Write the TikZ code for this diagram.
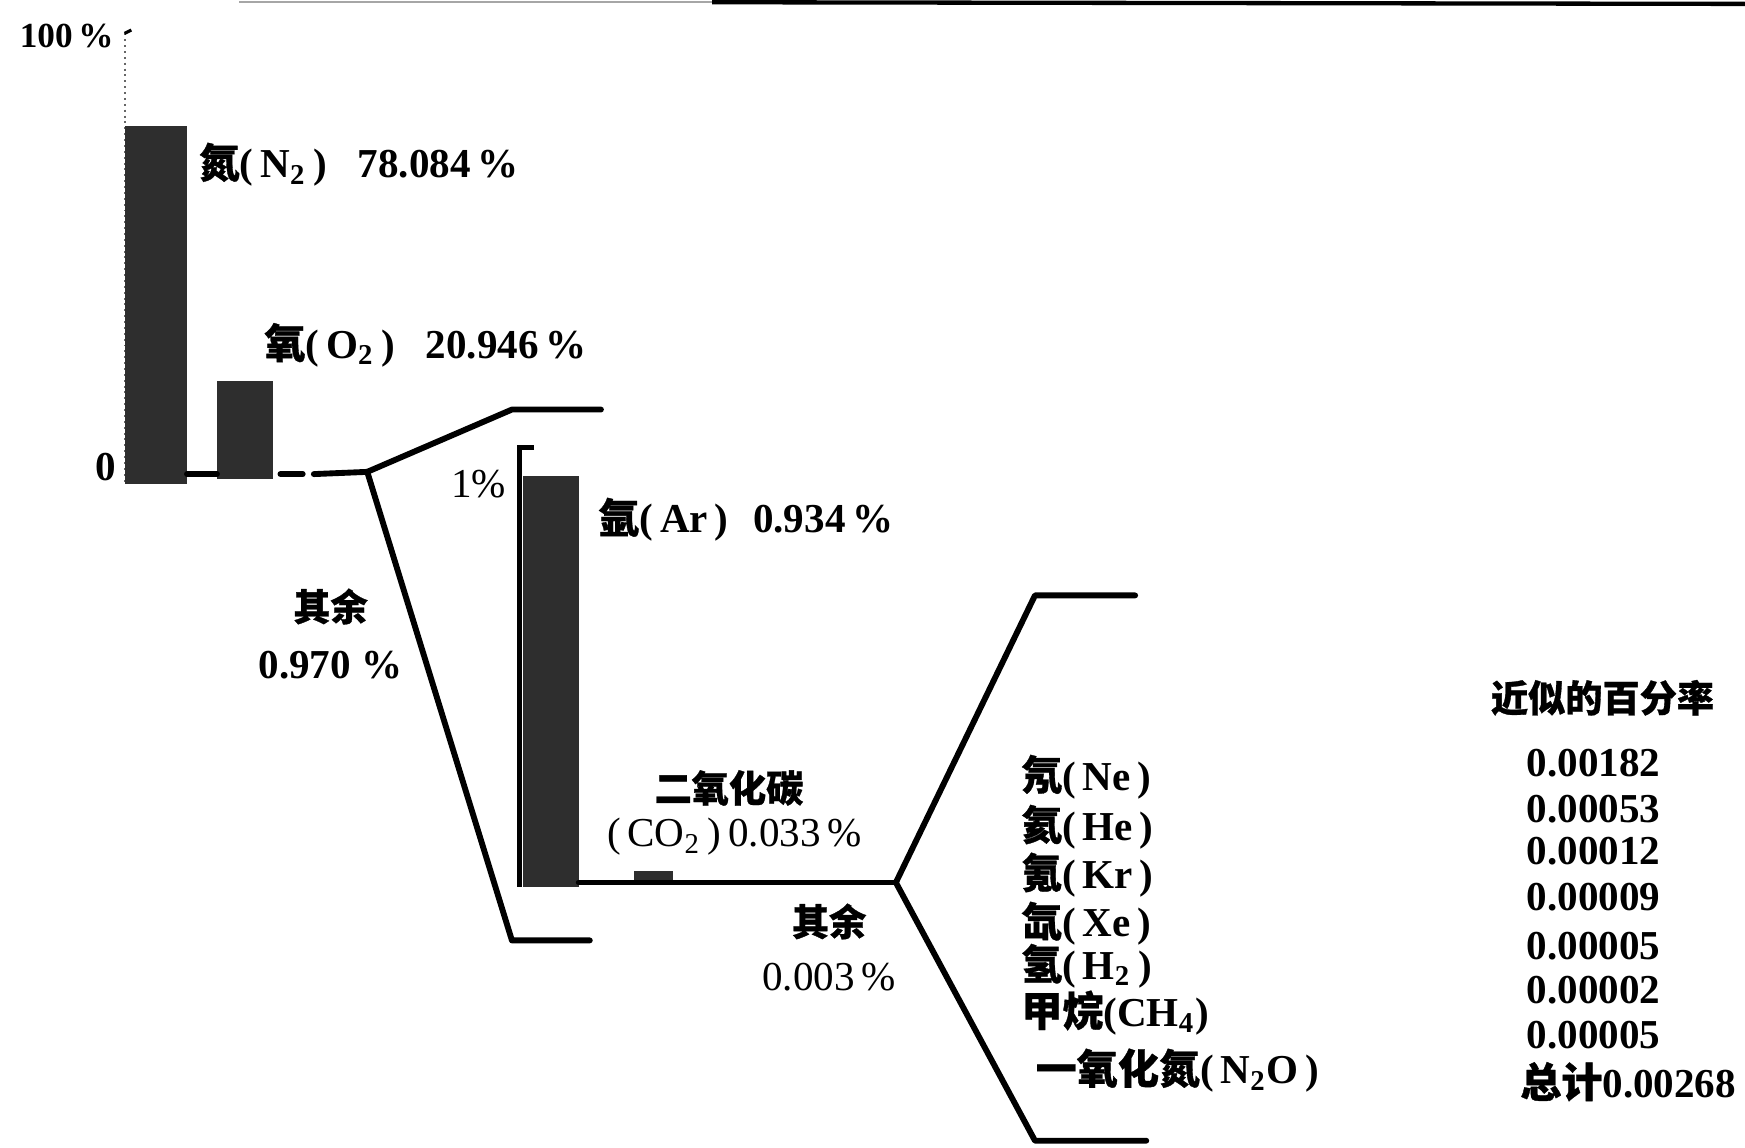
\documentclass[tikz,border=0pt]{standalone}
\usepackage{fontspec}
\setmainfont{Liberation Serif}
\newfontfamily\cjk{Noto Sans CJK SC}[FakeBold=0.8]
\newcommand{\zh}[1]{{\cjk #1}}
\begin{document}
\begin{tikzpicture}[x=0.01cm,y=-0.01cm,
  lbl/.style={inner sep=0pt,font=\fontsize{10.5}{12}\selectfont\bfseries},
  thin/.style={inner sep=0pt,font=\fontsize{10.5}{12}\selectfont},
  zhl/.style={inner sep=0pt,font=\fontsize{9.5}{12}\selectfont\bfseries},
  bar/.style={fill=black!82,inner sep=0pt,outer sep=0pt},
  trunk/.style={line width=1.5pt,line cap=round,line join=round},
  axisline/.style={line width=0.5pt,black!60}]
\useasboundingbox (0,0) rectangle (1568,1030.7);
% top edge artifact
\draw[black!35,line width=0.5pt] (215,1.5) -- (640,1.5);
\draw[black,line width=1.1pt] (640,2) -- (1568,3.5);
% first chart
\coordinate (ax1top) at (112,30);
\coordinate (ax1bot) at (112,435);
\draw[axisline,densely dotted] (ax1top) -- (ax1bot);
\draw[line width=0.8pt] (ax1top) -- ++(6,-3);
\node[inner sep=0pt,font=\fontsize{9}{11}\selectfont\bfseries] (l100) at (60,32) {100\,\%};
\node[lbl] (l0) at (95,420) {0};
\node[bar,minimum width=0.56cm,minimum height=3.22cm] (n2bar) at (140,274) {};
\node[bar,minimum width=0.50cm,minimum height=0.88cm] (o2bar) at (220,386) {};
\coordinate (b1) at (330,424);
\draw[trunk] (n2bar.east|-168,426) -- (o2bar.west|-195,426);
\draw[trunk] (252,426) -- (272,426);
\draw[trunk] (282,426) -- (b1);
\coordinate (u1) at (460,368);
\coordinate (u1e) at (540,368);
\coordinate (d1) at (460,845);
\coordinate (d1e) at (530,845);
\draw[trunk] (b1) -- (u1) -- (u1e);
\draw[trunk] (b1) -- (d1) -- (d1e);
\node[lbl,anchor=west] (n2) at (178,148) {\zh{氮}(\,N\textsubscript{2}\,)\hspace{0.75em}78.084\,\%};
\node[lbl,anchor=west] (o2) at (237,310) {\zh{氧}(\,O\textsubscript{2}\,)\hspace{0.75em}20.946\,\%};
\node[zhl] (rest1) at (297,545) {\zh{其余}};
\node[lbl] (rest1v) at (297,598) {0.970 \%};
% second chart
\coordinate (ax2top) at (467,402);
\coordinate (ax2bot) at (467,797);
\draw[line width=1.2pt] (480,402) -- (ax2top) -- (ax2bot);
\node[thin] (l1) at (430,435) {1\%};
\node[bar,minimum width=0.50cm,minimum height=3.69cm] (arbar) at (495,612.5) {};
\node[bar,minimum width=0.35cm,minimum height=0.10cm] (co2bar) at (587.5,788) {};
\coordinate (b2) at (805,793);
\draw[trunk] (arbar.east|-b2) -- (b2);
\coordinate (u2) at (930,535);
\coordinate (u2e) at (1020,535);
\coordinate (d2) at (930,1025);
\coordinate (d2e) at (1030,1025);
\draw[trunk] (b2) -- (u2) -- (u2e);
\draw[trunk] (b2) -- (d2) -- (d2e);
\node[lbl,anchor=west] (ar) at (537,467) {\zh{氩}(\,Ar\,)\hspace{0.6em}0.934\,\%};
\node[zhl] (co2a) at (655,708) {\zh{二氧化碳}};
\node[thin] (co2b) at (660,752) {(\,CO\textsubscript{2}\,)\,0.033\,\%};
\node[zhl] (rest2) at (745,828) {\zh{其余}};
\node[thin] (rest2v) at (745,878) {0.003\,\%};
% gas list
\node[lbl,anchor=west] (ne) at (917,698) {\zh{氖}(\,Ne\,)};
\node[lbl,anchor=west] (he) at (917,743) {\zh{氦}(\,He\,)};
\node[lbl,anchor=west] (kr) at (917,786) {\zh{氪}(\,Kr\,)};
\node[lbl,anchor=west] (xe) at (917,830) {\zh{氙}(\,Xe\,)};
\node[lbl,anchor=west] (h2) at (917,868) {\zh{氢}(\,H\textsubscript{2}\,)};
\node[lbl,anchor=west] (ch4) at (917,910) {\zh{甲烷}(CH\textsubscript{4})};
\node[lbl,anchor=west] (n2o) at (930,962) {\zh{一氧化氮}(\,N\textsubscript{2}O\,)};
% values
\node[zhl] (hdr) at (1440,627) {\zh{近似的百分率}};
\node[lbl] (v1) at (1432,686) {0.00182};
\node[lbl] (v2) at (1432,727) {0.00053};
\node[lbl] (v3) at (1432,765) {0.00012};
\node[lbl] (v4) at (1432,806) {0.00009};
\node[lbl] (v5) at (1432,850) {0.00005};
\node[lbl] (v6) at (1432,890) {0.00002};
\node[lbl] (v7) at (1432,930) {0.00005};
\node[lbl] (v8) at (1463,972) {\zh{总计}0.00268};
\end{tikzpicture}
\end{document}
